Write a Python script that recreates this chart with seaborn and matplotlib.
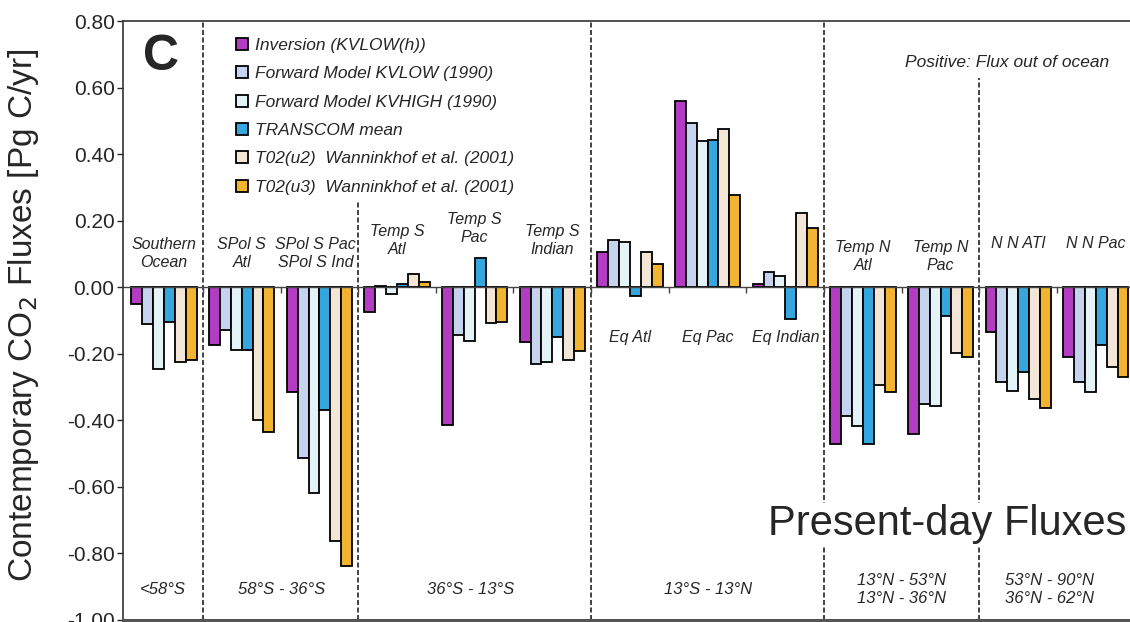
import numpy as np
import pandas as pd
import matplotlib
matplotlib.use("Agg")
import matplotlib.pyplot as plt
from matplotlib.ticker import FormatStrFormatter
import seaborn as sns

# regions (left to right)
regions = ["Southern Ocean", "SPol S Atl", "SPol S Pac/Ind", "Temp S Atl", "Temp S Pac",
           "Temp S Indian", "Eq Atl", "Eq Pac", "Eq Indian", "Temp N Atl", "Temp N Pac",
           "N N Atl", "N N Pac"]

series = ["Inversion (KVLOW(h))", "Forward Model KVLOW (1990)", "Forward Model KVHIGH (1990)",
          "TRANSCOM mean", "T02(u2)  Wanninkhof et al. (2001)", "T02(u3)  Wanninkhof et al. (2001)"]

inversion = [-0.05, -0.175, -0.315, -0.075, -0.415, -0.165, 0.106, 0.56, 0.01, -0.472, -0.442, -0.134, -0.209]
kvlow = [-0.11, -0.13, -0.515, 0.003, -0.145, -0.232, 0.141, 0.493, 0.045, -0.387, -0.351, -0.287, -0.287]
kvhigh = [-0.245, -0.19, -0.62, -0.022, -0.163, -0.225, 0.135, 0.44, 0.032, -0.419, -0.359, -0.314, -0.317]
transcom = [-0.105, -0.19, -0.37, 0.01, 0.087, -0.15, -0.026, 0.443, -0.096, -0.472, -0.088, -0.254, -0.174]
t02_u2 = [-0.225, -0.40, -0.765, 0.04, -0.108, -0.218, 0.105, 0.475, 0.224, -0.294, -0.199, -0.337, -0.239]
t02_u3 = [-0.22, -0.435, -0.84, 0.015, -0.105, -0.193, 0.069, 0.278, 0.177, -0.317, -0.209, -0.364, -0.269]

colors = ["#b23cc2", "#c6d3ef", "#e4f3f7", "#36a6df", "#f4e6d6", "#f2b431"]

region_labels = ["Southern\nOcean", "SPol S\nAtl", "SPol S Pac\nSPol S Ind", "Temp S\nAtl", "Temp S\nPac",
                 "Temp S\nIndian", "Eq Atl", "Eq Pac", "Eq Indian", "Temp N\nAtl", "Temp N\nPac",
                 "N N ATl", "N N Pac"]
label_y = [0.10, 0.10, 0.10, 0.14, 0.175, 0.14, -0.153, -0.153, -0.153, 0.093, 0.093, 0.13, 0.13]

lat_labels = ["<58°S", "58°S - 36°S", "36°S - 13°S", "13°S - 13°N", "13°N - 53°N\n13°N - 36°N",
              "53°N - 90°N\n36°N - 62°N"]
lat_x = [-0.01, 1.52, 3.95, 7.0, 9.5, 11.4]

# long table for seaborn
vals = [inversion, kvlow, kvhigh, transcom, t02_u2, t02_u3]
df = pd.DataFrame({
    "region": regions * len(series),
    "series": np.repeat(series, len(regions)),
    "flux": np.concatenate(vals),
})

sns.set_style("white")
plt.rcParams["font.family"] = ["Liberation Sans", "DejaVu Sans"]

fig = plt.figure(figsize=(11.3, 6.22), dpi=100)
ax = fig.add_axes([0.1088, 0.004, 0.8912, 0.962])

sns.barplot(data=df, x="region", y="flux", hue="series", order=regions, hue_order=series,
            palette=colors, saturation=1, width=0.84, edgecolor="black", linewidth=1.3,
            errorbar=None, ax=ax)

ax.set_xlim(-0.53, 12.44)
ax.set_ylim(-1.0, 0.8)
ax.set_yticks(np.round(np.arange(-1.0, 0.81, 0.2), 2) + 0.0)
ax.yaxis.set_major_formatter(FormatStrFormatter("%.2f"))
ax.tick_params(axis="y", direction="out", length=4, width=1, labelsize=15, left=True, pad=2)
ax.set_xticks([])
ax.set_xlabel("")
ax.set_ylabel("Contemporary CO$_2$ Fluxes [Pg C/yr]", fontsize=24)
ax.yaxis.set_label_coords(-0.081, 0.509)

for s in ["left", "top", "bottom"]:
    ax.spines[s].set_color("#333333")
    ax.spines[s].set_linewidth(1.2)
ax.spines["bottom"].set_linewidth(2.2)
ax.spines["bottom"].set_color("#555555")
ax.spines["right"].set_visible(False)

# zero line with small ticks between groups
ax.axhline(0, color="#444444", lw=1.0, zorder=1)
ax.plot(np.arange(0.5, 12, 1.0), np.zeros(12), ls="none", marker=3, ms=4, color="#444444")

# dashed separators between latitude bands
sep_x = [0.5, 2.5, 5.5, 8.5, 10.5]
sep_top = [0.8, 0.26, 0.8, 0.8, 0.63]
for x, t in zip(sep_x, sep_top):
    ax.plot([x, x], [-1.0, t], ls=(0, (3, 1.5)), color="#222222", lw=1.2, zorder=0)

# region labels
for i, (lab, y) in enumerate(zip(region_labels, label_y)):
    xi = i - 0.05 if i == 2 else i
    ax.text(xi, y, lab, ha="center", va="center", fontsize=11.5, style="italic",
            linespacing=1.25)

for x, lab in zip(lat_x, lat_labels):
    ax.text(x, -0.91, lab, ha="center", va="center", fontsize=12, style="italic",
            linespacing=1.3)

ax.text(0.038, 0.94, "C", transform=ax.transAxes, fontsize=36, fontweight="bold",
        ha="center", va="center")
ax.text(0.979, 0.931, "Positive: Flux out of ocean", transform=ax.transAxes, fontsize=12.5,
        style="italic", ha="right", va="center", bbox=dict(fc="white", ec="none", pad=2))
ax.text(0.996, 0.16, "Present-day Fluxes", transform=ax.transAxes, fontsize=30,
        ha="right", va="center", bbox=dict(fc="white", ec="none", pad=1), zorder=5)

handles, labels = ax.get_legend_handles_labels()
ax.legend(handles, labels, loc="upper left", bbox_to_anchor=(0.112, 0.972), frameon=False,
          prop=dict(style="italic", size=12.5), handlelength=0.7, handleheight=0.7,
          handletextpad=0.4, labelspacing=0.76, borderaxespad=0, borderpad=0)

fig.savefig("out.png", dpi=100)
